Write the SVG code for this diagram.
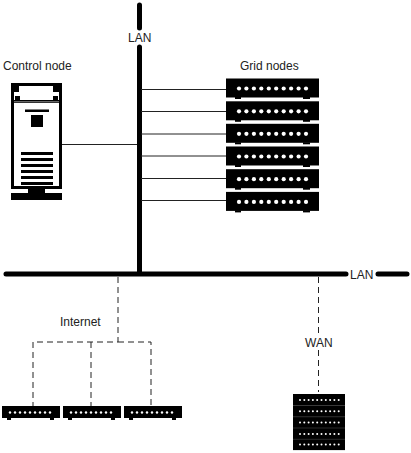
<svg xmlns="http://www.w3.org/2000/svg" width="411" height="453" viewBox="0 0 411 453">
<style>
text{font-family:"Liberation Sans",Arial,sans-serif;font-size:12px;fill:#222}
.bus{stroke:#000;stroke-width:5;stroke-linecap:round;fill:none}
.thin{stroke:#222;stroke-width:1;fill:none}
.dash{stroke:#222;stroke-width:1;stroke-dasharray:6 4;fill:none}
</style>
<defs>
<g id="rack">
<rect x="226" y="78.500" width="93" height="19" fill="#000"/>
<rect x="235" y="97" width="6" height="2" fill="#000"/><rect x="303" y="97" width="7" height="2" fill="#000"/>
<g fill="#fff"><circle cx="239" cy="88.500" r="2.100"/><circle cx="246.400" cy="88.500" r="2.100"/><circle cx="253.900" cy="88.500" r="2.100"/><circle cx="261.300" cy="88.500" r="2.100"/><circle cx="268.800" cy="88.500" r="2.100"/><circle cx="276.200" cy="88.500" r="2.100"/><circle cx="283.700" cy="88.500" r="2.100"/><circle cx="291.100" cy="88.500" r="2.100"/><circle cx="298.600" cy="88.500" r="2.100"/><circle cx="306" cy="88.500" r="2.100"/></g>
</g>
<g id="small">
<rect x="2" y="406" width="58" height="12" fill="#000"/>
<rect x="7" y="418" width="4" height="2" fill="#000"/><rect x="50" y="418" width="4" height="2" fill="#000"/>
<g fill="#fff"><circle cx="10" cy="412.500" r="1.200"/><circle cx="15" cy="412.500" r="1.200"/><circle cx="20" cy="412.500" r="1.200"/><circle cx="25" cy="412.500" r="1.200"/><circle cx="30" cy="412.500" r="1.200"/><circle cx="35" cy="412.500" r="1.200"/><circle cx="40" cy="412.500" r="1.200"/><circle cx="45" cy="412.500" r="1.200"/><circle cx="50" cy="412.500" r="1.200"/></g>
</g>
<g id="blade">
<rect x="293" y="394" width="52" height="11.600" fill="#000"/>
<g fill="#fff"><circle cx="300" cy="400" r="1"/><circle cx="304.300" cy="400" r="1"/><circle cx="308.600" cy="400" r="1"/><circle cx="312.900" cy="400" r="1"/><circle cx="317.200" cy="400" r="1"/><circle cx="321.500" cy="400" r="1"/><circle cx="325.800" cy="400" r="1"/><circle cx="330.100" cy="400" r="1"/><circle cx="334.400" cy="400" r="1"/><circle cx="338.700" cy="400" r="1"/></g>
</g>
</defs>
<g id="connectors">
<path class="bus" d="M139.500 5V28M139.500 47V272"/>
<path class="bus" d="M6 274H346M378 274H407"/>
<path class="thin" d="M141 89.500H226M141 111.500H226M141 134H226M141 156H226M141 178.500H226M141 200.500H226M60 144.500H137"/>
<path class="dash" d="M118 277V342H33V406M91 342V406M118 342H151V406M318.500 277V336M318.500 350V392"/>
</g>
<g id="lan-labels">
<text x="128" y="42">LAN</text>
<text x="350" y="279">LAN</text>
</g>
<g id="control-node">
<text x="3" y="70">Control node</text>
<rect x="11" y="83" width="51" height="106" fill="#000"/>
<rect x="14" y="103" width="45" height="83" fill="#fff"/>
<rect x="19" y="86" width="34" height="14" fill="#fff"/>
<rect x="14" y="92" width="45" height="8" fill="#fff"/>
<rect x="15" y="96" width="5" height="4" fill="#000"/>
<rect x="53" y="96" width="5" height="4" fill="#000"/>
<rect x="14" y="101" width="45" height="1.500" fill="#666"/>
<rect x="25" y="109.500" width="24" height="2.500" fill="#000"/>
<rect x="31" y="115" width="12" height="12" fill="#000"/>
<rect x="21" y="152" width="32" height="3" fill="#000"/><rect x="21" y="158" width="32" height="3" fill="#000"/><rect x="21" y="164" width="32" height="3" fill="#000"/><rect x="21" y="170" width="32" height="3" fill="#000"/><rect x="21" y="176" width="32" height="3" fill="#000"/><rect x="21" y="182" width="32" height="3" fill="#000"/>
<rect x="11" y="193" width="51" height="7" fill="#000"/>
<rect x="28" y="189" width="17" height="4" fill="#000"/>
</g>
<g id="grid-nodes">
<text x="240" y="70">Grid nodes</text>
<use href="#rack"/>
<use href="#rack" y="22.800"/>
<use href="#rack" y="45.300"/>
<use href="#rack" y="68"/>
<use href="#rack" y="90.700"/>
<use href="#rack" y="113.400"/>
</g>
<g id="internet-nodes">
<text x="60" y="326">Internet</text>
<use href="#small"/>
<use href="#small" x="61"/>
<use href="#small" x="122"/>
</g>
<g id="wan-node">
<text x="305" y="347">WAN</text>
<use href="#blade"/>
<use href="#blade" y="11.300"/>
<use href="#blade" y="22.600"/>
<use href="#blade" y="33.900"/>
<use href="#blade" y="44.500"/>
<path d="M293 405.500H345M293 416.800H345M293 428H345M293 439.300H345" stroke="#555" stroke-width="0.500"/>
</g>
</svg>
